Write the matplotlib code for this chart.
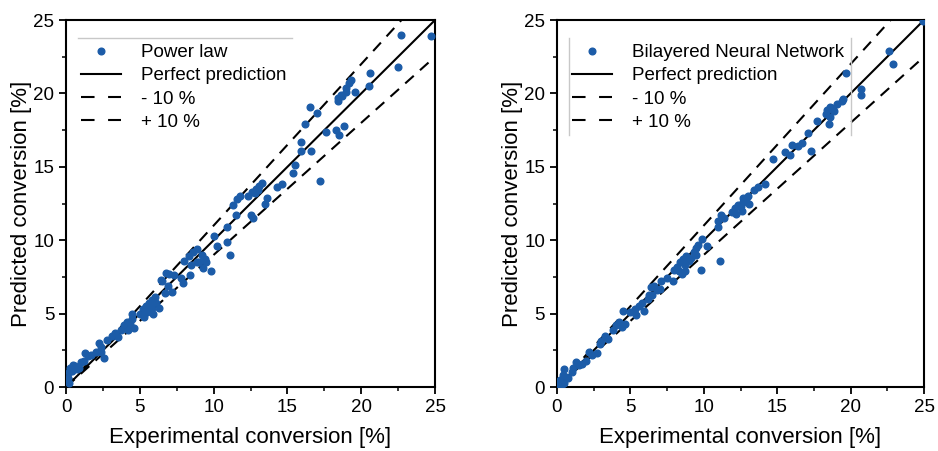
import numpy as np
import matplotlib
matplotlib.use('Agg')
import matplotlib.pyplot as plt
from matplotlib.lines import Line2D
from matplotlib.ticker import MultipleLocator

plt.rcParams['font.family'] = ['Liberation Sans', 'DejaVu Sans']

# experimental vs predicted conversion [%], power law model
pl_exp = [0.1, 0.2, 0.2, 0.3, 0.4, 0.5, 0.6, 0.75, 1.0, 1.3, 1.5, 1.7, 2.0, 2.2, 2.4, 2.4, 2.6,
          3.1, 3.3, 3.5, 3.9, 4.1, 4.2, 4.3, 4.5, 4.5, 4.6, 5.0, 5.2, 5.3, 5.4, 5.5, 5.6, 5.8,
          5.8, 5.9, 6.0, 6.1, 6.3, 6.5, 6.7, 6.9, 7.2, 6.4, 6.8, 7.3, 7.8, 7.9, 8.4, 8.0, 8.3,
          8.5, 8.6, 8.9, 8.9, 9.0, 9.2, 9.3, 9.4, 9.5, 9.8, 10.0, 10.2, 10.9, 10.9, 11.1, 11.3,
          11.5, 11.6, 11.8, 12.3, 12.5, 12.6, 12.7, 12.8, 12.9, 13.0, 13.1, 13.3, 13.5, 13.6,
          14.3, 14.6, 15.4, 15.5, 15.9, 15.9, 16.2, 16.5, 16.6, 17.0, 17.2, 17.6, 18.3, 18.4,
          18.5, 18.4, 18.6, 18.7, 18.8, 19.0, 19.0, 19.2, 19.3, 19.6, 20.5, 20.6, 22.5, 22.7,
          24.7, 2.8, 3.7, 1.2, 0.9, 7.0]
pl_pred = [0.6, 1.0, 0.3, 1.3, 1.1, 1.5, 1.4, 1.2, 1.7, 2.3, 2.1, 2.2, 2.4, 3.0, 2.7, 2.4, 2.0,
           3.5, 3.7, 3.4, 4.2, 4.4, 3.9, 4.3, 4.6, 5.0, 4.0, 5.0, 5.3, 4.8, 5.5, 5.1, 5.7, 5.9,
           5.4, 5.0, 6.1, 5.7, 5.4, 7.2, 6.4, 6.9, 6.5, 7.3, 7.8, 7.6, 7.4, 7.1, 7.6, 8.6, 8.9,
           8.3, 9.2, 9.4, 8.5, 8.5, 9.0, 8.1, 8.7, 8.5, 7.9, 10.3, 9.6, 10.9, 9.9, 9.0, 12.4,
           11.7, 12.8, 13.0, 13.0, 11.7, 13.3, 11.5, 13.2, 13.5, 13.4, 13.7, 13.9, 12.5, 12.9,
           13.6, 13.8, 14.6, 15.1, 16.7, 16.1, 17.9, 19.1, 16.1, 18.7, 14.0, 17.4, 17.5, 19.5,
           17.2, 19.7, 19.9, 19.8, 17.8, 20.1, 20.4, 20.7, 20.9, 20.1, 20.5, 21.4, 21.8, 24.0,
           23.9, 3.2, 3.9, 1.8, 1.3, 7.7]

# bilayered neural network
nn_exp = [0.1, 0.2, 0.3, 0.4, 0.5, 0.6, 0.75, 0.5, 1.1, 1.3, 1.5, 1.7, 2.0, 2.2, 2.4, 2.7, 2.9,
          3.25, 3.5, 3.8, 4.0, 4.2, 4.4, 4.5, 4.6, 5.0, 5.3, 5.4, 5.6, 5.8, 5.9, 6.2, 6.3, 6.4,
          6.6, 6.8, 7.1, 6.5, 7.0, 7.9, 8.0, 8.2, 8.3, 8.4, 8.5, 8.6, 8.7, 8.7, 8.8, 9.0, 9.1,
          9.3, 9.5, 9.5, 9.6, 9.8, 9.9, 10.2, 10.95, 10.95, 11.1, 11.2, 11.4, 11.9, 12.1, 12.2,
          12.3, 12.5, 12.6, 12.7, 12.7, 12.9, 13.0, 13.1, 13.4, 13.7, 14.2, 14.7, 15.5, 15.9,
          16.0, 16.4, 16.7, 17.1, 17.3, 17.7, 18.3, 18.4, 18.5, 18.6, 18.6, 18.7, 18.9, 19.1,
          19.4, 19.5, 19.7, 20.7, 20.7, 22.6, 22.9, 24.9, 1.0, 3.0, 7.5]
nn_pred = [0.2, 0.5, 0.0, 0.8, 0.3, 0.7, 0.6, 1.2, 1.3, 1.7, 1.5, 1.6, 1.8, 2.4, 2.2, 2.3, 2.9,
           3.5, 3.3, 3.9, 4.2, 4.4, 4.1, 5.2, 4.3, 5.1, 5.3, 4.9, 5.5, 5.7, 5.2, 6.0, 6.3, 6.8,
           6.9, 6.6, 7.2, 6.3, 6.7, 7.2, 8.0, 8.2, 7.9, 8.5, 7.7, 8.7, 7.9, 8.3, 8.9, 8.6, 8.8,
           9.2, 9.5, 9.0, 9.7, 8.0, 10.1, 9.6, 11.3, 10.9, 8.6, 11.7, 11.5, 11.9, 12.2, 11.8,
           12.4, 12.3, 12.0, 12.6, 12.9, 12.8, 13.0, 12.5, 13.4, 13.6, 13.8, 15.5, 16.0, 15.8,
           16.5, 16.4, 16.6, 17.3, 16.1, 18.1, 18.6, 18.9, 17.9, 19.1, 18.4, 19.0, 18.8, 19.3,
           19.5, 19.6, 21.4, 20.3, 19.9, 22.9, 22.0, 24.9, 1.0, 3.1, 7.4]

ref_line = [0, 25]
panels = [(pl_exp, pl_pred, 'Power law'),
          (nn_exp, nn_pred, 'Bilayered Neural Network')]

blue = '#1c5ca8'
fig = plt.figure(figsize=(9.38, 4.51), dpi=100)
axes = [fig.add_axes([0.0704, 0.1419, 0.3934, 0.8137]),
        fig.add_axes([0.5938, 0.1419, 0.3913, 0.8137])]

for ax, (xe, yp, name) in zip(axes, panels):
    x0 = np.array(ref_line)
    pts, = ax.plot(xe, yp, 'o', color=blue, ms=4.8, zorder=3)
    perf, = ax.plot(x0, x0, '-', color='black', lw=1.5)
    ax.plot(x0, 0.9 * x0, color='black', lw=1.5, dashes=(5.5, 4))
    ax.plot(x0, 1.1 * x0, color='black', lw=1.5, dashes=(5.5, 4))
    # legend shows the dashes a bit longer, two per handle
    dash_h = Line2D([], [], color='black', lw=1.5, dashes=(6.5, 6.5))
    ax.legend([pts, perf, dash_h, dash_h],
              [name, 'Perfect prediction', '- 10 %', '+ 10 %'],
              loc='upper left', bbox_to_anchor=(0.025, 0.95), borderaxespad=0,
              frameon=False, fontsize=13.5, handlelength=2.15, handletextpad=1.05,
              labelspacing=0.33, borderpad=0.3)
    ax.set_xlim(0, 25)
    ax.set_ylim(0, 25)
    ax.xaxis.set_major_locator(MultipleLocator(5))
    ax.yaxis.set_major_locator(MultipleLocator(5))
    ax.xaxis.set_minor_locator(MultipleLocator(2.5))
    ax.yaxis.set_minor_locator(MultipleLocator(2.5))
    ax.tick_params(which='major', direction='out', length=5, width=1.3, labelsize=13.5)
    ax.tick_params(which='minor', direction='out', length=3, width=1.1)
    for s in ax.spines.values():
        s.set_linewidth(1.5)
    ax.set_xlabel('Experimental conversion [%]', fontsize=16, labelpad=8)
    ax.set_ylabel('Predicted conversion [%]', fontsize=16, labelpad=1)

# partial legend frame lines left over in the original figure
axes[0].plot([0.0325, 0.612], [0.951, 0.951], color='#c8c8c8', lw=1,
             transform=axes[0].transAxes, clip_on=False)
for xv in (0.0327, 0.801):
    axes[1].plot([xv, xv], [0.951, 0.687], color='#c8c8c8', lw=1,
                 transform=axes[1].transAxes, clip_on=False)

fig.savefig('out.png', dpi=100)
